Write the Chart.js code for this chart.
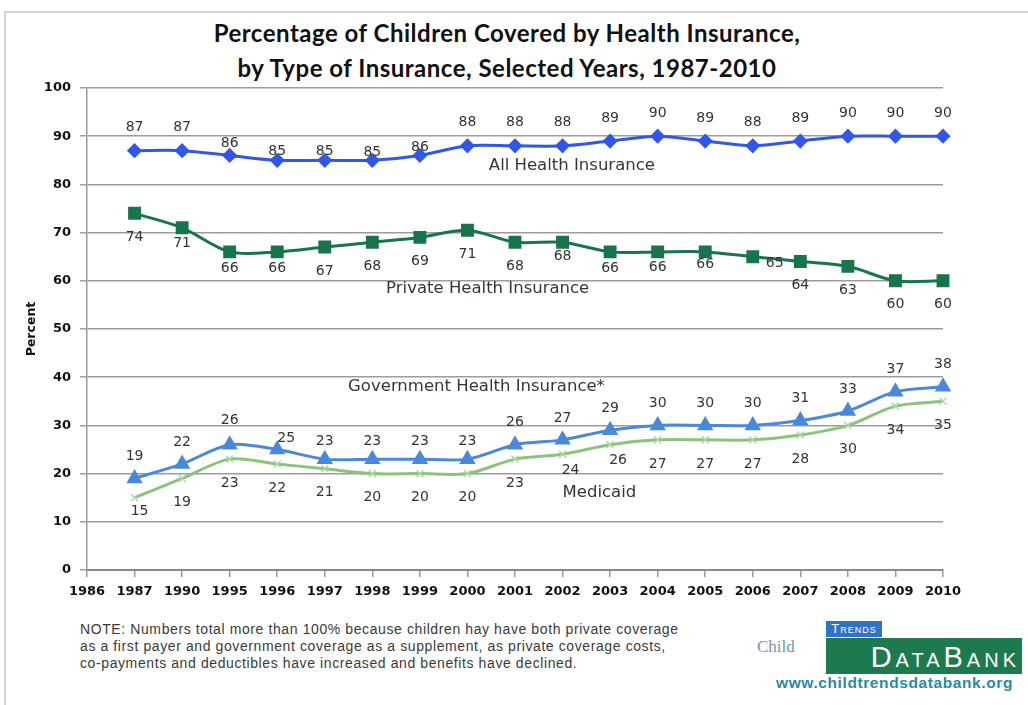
<!DOCTYPE html>
<html>
<head>
<meta charset="utf-8">
<script src="https://cdn.jsdelivr.net/npm/chart.js@4.4.0/dist/chart.umd.min.js"></script>
<style>
body{margin:0;background:#fff;width:1028px;height:705px;overflow:hidden;position:relative;font-family:"Liberation Sans",Arial,sans-serif}
#frame{position:absolute;left:4px;top:11px;width:1030px;height:700px;border-left:2px solid #d4d4d4;border-top:2px solid #d4d4d4}
#title{position:absolute;left:0;width:1014px;top:15px;text-align:center;font:bold 24px Lato,sans-serif;letter-spacing:0.5px;line-height:35px;color:#111}
#wrap{position:absolute;left:0;top:0;width:1028px;height:612px}
#note{position:absolute;left:80px;top:621px;font-size:14px;letter-spacing:0.6px;line-height:17px;color:#3a3a3a}
#child{position:absolute;left:757px;top:637px;font:17px "Liberation Serif",serif;color:#7096b6}
#trends{position:absolute;left:826px;top:621px;width:56px;height:16px;background:#2f74c4;color:#fff;font:13px "Liberation Sans",sans-serif;font-variant:small-caps;letter-spacing:1px;line-height:16px;text-align:center}
#databank{position:absolute;left:826px;top:638px;width:196px;height:36px;background:#1d7a4e;color:#fff;font:29px "Liberation Sans",sans-serif;font-variant:small-caps;letter-spacing:4px;line-height:38px;text-align:right;padding-right:2px;box-sizing:border-box}
#url{position:absolute;left:776px;top:674px;font:bold 15.5px "Liberation Sans",sans-serif;letter-spacing:0.6px;color:#2b8aa3}
</style>
</head>
<body>
<div id="frame"></div>
<div id="title">Percentage of Children Covered by Health Insurance,<br>by Type of Insurance, Selected Years, 1987-2010</div>
<div id="wrap"><canvas id="chart" width="1028" height="612"></canvas></div>
<div id="note">NOTE: Numbers total more than 100% because children hay have both private coverage<br>as a first payer and government coverage as a supplement, as private coverage costs,<br>co-payments and deductibles have increased and benefits have declined.</div>
<div id="child">Child</div>
<div id="trends">Trends</div>
<div id="databank">DataBank</div>
<div id="url">www.childtrendsdatabank.org</div>
<script>
// values (1986 is an empty category)
const years = ['1986','1987','1990','1995','1996','1997','1998','1999','2000','2001','2002','2003','2004','2005','2006','2007','2008','2009','2010'];
const allInsurance = [null,87,87,86,85,85,85,86,88,88,88,89,90,89,88,89,90,90,90];
const privateInsurance = [null,74,71,66,66,67,68,69,70.5,68,68,66,66,66,65,64,63,60,60];
const govInsurance = [null,19,22,26,25,23,23,23,23,26,27,29,30,30,30,31,33,37,38];
const medicaid = [null,15,19,23,22,21,20,20,20,23,24,26,27,27,27,28,30,34,35];
const yTicks = [0,10,20,30,40,50,60,70,80,90,100];

// number labels next to each point
const pointLabels = {
    id: 'pointLabels',
    afterDatasetsDraw(chart, args, opts) {
        let ctx = chart.ctx;
        ctx.save();
        ctx.font = opts.font;
        ctx.fillStyle = opts.color;
        ctx.textAlign = 'center';
        ctx.textBaseline = 'middle';
        chart.data.datasets.forEach((ds, i) => {
            const meta = chart.getDatasetMeta(i);
            const o = opts.offsets[i];
            meta.data.forEach((pt, j) => {
                const v = ds.data[j];
                if (v == null) return;
                const m = o.moves[chart.data.labels[j]] || [0, o.dy];
                ctx.fillText(Math.round(v), pt.x + m[0], pt.y + m[1]);
            });
        });
        ctx.restore();
    }
};

// series names written inside the plot
const seriesNames = {
    id: 'seriesNames',
    afterDatasetsDraw(chart, args, opts) {
        let ctx = chart.ctx;
        const xs = chart.scales.x, ys = chart.scales.y;
        ctx.save();
        ctx.font = opts.font;
        ctx.fillStyle = opts.color;
        ctx.textAlign = 'left';
        ctx.textBaseline = 'middle';
        opts.items.forEach(it => {
            ctx.fillText(it.text, xs.getPixelForValue(it.at), ys.getPixelForValue(it.y));
        });
        ctx.restore();
    }
};

const ctx = document.getElementById('chart').getContext('2d');
const myChart = new Chart(ctx, {
    type: 'line',
    data: {
        labels: years,
        datasets: [{
            label: 'All Health Insurance',
            data: allInsurance,
            borderColor: '#3157e8',
            backgroundColor: '#3157e8',
            borderWidth: 3,
            pointStyle: 'rectRot',
            pointRadius: 5.5,
            tension: 0.3
        },
        {
            label: 'Private Health Insurance',
            data: privateInsurance,
            borderColor: '#17744c',
            backgroundColor: '#17744c',
            borderWidth: 3,
            pointStyle: 'rect',
            pointRadius: 7,
            tension: 0.3
        },
        {
            label: 'Government Health Insurance*',
            data: govInsurance,
            borderColor: '#4a88dc',
            backgroundColor: '#4a88dc',
            borderWidth: 3,
            pointStyle: 'triangle',
            pointRadius: 6.5,
            tension: 0.3
        },
        {
            label: 'Medicaid',
            data: medicaid,
            borderColor: '#8dc27c',
            backgroundColor: '#8dc27c',
            borderWidth: 3,
            pointStyle: 'crossRot',
            pointRadius: 5,
            pointBorderColor: '#b5d6aa',
            pointBorderWidth: 1.5,
            tension: 0.3
        }]
    },
    options: {
        responsive: false,
        animation: false,
        devicePixelRatio: 1,
        layout: { padding: { left: 20, right: 85, top: 88, bottom: 0 } },
        plugins: {
            legend: { display: false },
            tooltip: { enabled: false },
            pointLabels: {
                font: '14px "DejaVu Sans"',
                color: '#333',
                offsets: [
                    { dy: -23, moves: { '1995': [0, -12], '1996': [0, -9], '1997': [0, -9], '1998': [0, -8], '1999': [0, -8] } },
                    { dy: 24, moves: { '1990': [0, 16], '1995': [0, 16], '1996': [0, 16], '2002': [0, 14], '2003': [0, 16], '2004': [0, 15], '2005': [0, 12], '2006': [22, 7] } },
                    { dy: -22, moves: { '1995': [0, -24], '1996': [9, -11], '1997': [0, -18], '1998': [0, -18], '1999': [0, -18], '2000': [0, -18] } },
                    { dy: 24, moves: { '1987': [5, 14], '2002': [8, 16], '2003': [8, 16] } }
                ]
            },
            seriesNames: {
                font: '16.5px "DejaVu Sans"',
                color: '#3b3434',
                items: [
                    { text: 'All Health Insurance', at: 8.45, y: 83.8 },
                    { text: 'Private Health Insurance', at: 6.29, y: 58.3 },
                    { text: 'Government Health Insurance*', at: 5.49, y: 38 },
                    { text: 'Medicaid', at: 10, y: 16 }
                ]
            }
        },
        scales: {
            x: {
                offset: false,
                grid: { display: true, drawOnChartArea: false, drawTicks: true, tickLength: 7, color: '#999', lineWidth: 1.5 },
                border: { display: true, color: '#8a8a8a', width: 2 },
                ticks: { autoSkip: false, maxRotation: 0, padding: 7, color: '#111', font: { family: 'DejaVu Sans', size: 13, weight: 'bold' } },
                afterFit: (s) => { s.height = 42; }
            },
            y: {
                min: 0,
                max: 100,
                afterBuildTicks: (s) => { s.ticks = yTicks.map(v => ({ value: v })); },
                grid: { color: '#9c9c9c', lineWidth: 1.5, tickLength: 7 },
                border: { display: true, color: '#9c9c9c', width: 1.5 },
                ticks: { padding: 9, color: '#111', font: { family: 'DejaVu Sans', size: 13, weight: 'bold' } },
                title: { display: true, text: 'Percent', color: '#111', font: { family: 'DejaVu Sans', size: 12.5, weight: 'bold' }, padding: { top: 4, bottom: 0 } },
                afterFit: (s) => { s.width = 67; }
            }
        }
    },
    plugins: [pointLabels, seriesNames]
});
</script>
</body>
</html>
